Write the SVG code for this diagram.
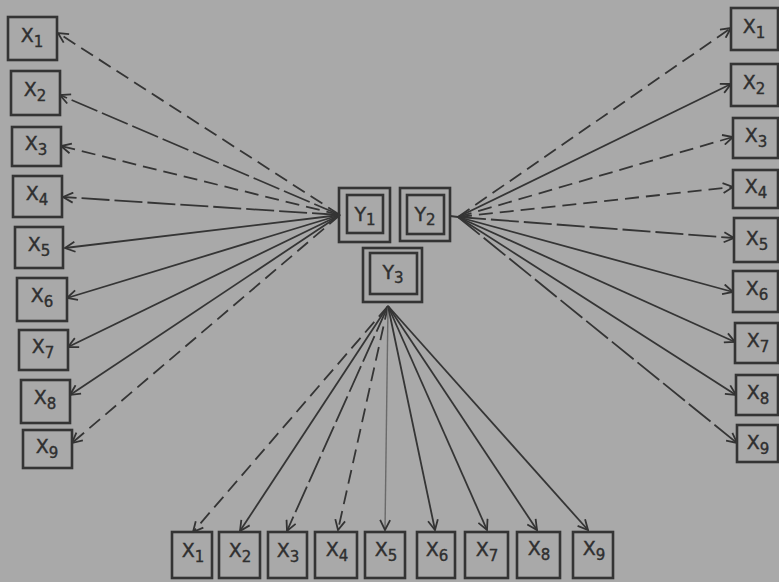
<svg xmlns="http://www.w3.org/2000/svg" width="779" height="582" viewBox="0 0 779 582">
<defs>
<marker id="arr" viewBox="0 0 12 12" refX="11" refY="6" markerWidth="12" markerHeight="12" markerUnits="userSpaceOnUse" orient="auto">
<path d="M1,1 L11,6 L1,11" fill="none" stroke="#333" stroke-width="1.8"/>
</marker>
</defs>
<style>
.bg{fill:#a9a9a9}
.box{fill:none;stroke:#343434;stroke-width:2.6}
.lbl{font-family:"DejaVu Sans","Liberation Sans",sans-serif;font-size:19px;fill:#2f2f2f;stroke:#2f2f2f;stroke-width:0.4;text-anchor:middle}
.sub{font-size:15px}
.c{fill:none;stroke:#353535;stroke-width:1.8;marker-end:url(#arr)}
.d{stroke-dasharray:14 7}
.ld{stroke-dasharray:28 5}
.g{stroke:#6a6a6a;stroke-width:1.4}
</style>
<rect class="bg" x="0" y="0" width="779" height="582"/>
<g id="connectors">
<line class="c d" x1="340" y1="215" x2="58" y2="33"/>
<line class="c ld" x1="340" y1="215" x2="60" y2="95"/>
<line class="c d" x1="340" y1="215" x2="61" y2="146"/>
<line class="c ld" x1="340" y1="215" x2="63" y2="197"/>
<line class="c" x1="340" y1="215" x2="65" y2="248"/>
<line class="c" x1="340" y1="215" x2="67" y2="298"/>
<line class="c" x1="340" y1="215" x2="68" y2="347"/>
<line class="c" x1="340" y1="215" x2="70" y2="395"/>
<line class="c d" x1="340" y1="215" x2="72" y2="443"/>
<line class="c" x1="450" y1="216" x2="458" y2="217" style="marker-end:none"/>
<line class="c d" x1="458" y1="217" x2="731" y2="28"/>
<line class="c" x1="458" y1="217" x2="731" y2="84"/>
<line class="c d" x1="458" y1="217" x2="733" y2="137"/>
<line class="c d" x1="458" y1="217" x2="733" y2="187"/>
<line class="c ld" x1="458" y1="217" x2="734" y2="238"/>
<line class="c" x1="458" y1="217" x2="733" y2="292"/>
<line class="c" x1="458" y1="217" x2="735" y2="342"/>
<line class="c" x1="458" y1="217" x2="736" y2="395"/>
<line class="c ld" x1="458" y1="217" x2="737" y2="443"/>
<line class="c d" x1="388" y1="306" x2="193" y2="532"/>
<line class="c" x1="388" y1="306" x2="240" y2="531"/>
<line class="c ld" x1="388" y1="306" x2="287" y2="531"/>
<line class="c d" x1="388" y1="306" x2="338" y2="530"/>
<line class="c g" x1="388" y1="306" x2="385" y2="530"/>
<line class="c" x1="388" y1="306" x2="435" y2="530"/>
<line class="c" x1="388" y1="306" x2="487" y2="530"/>
<line class="c" x1="388" y1="306" x2="537" y2="530"/>
<line class="c" x1="388" y1="306" x2="588" y2="530"/>
</g>
<g id="Y1"><rect class="box" x="339" y="188" width="51" height="54"/><rect class="box" x="347" y="195" width="36" height="38"/><text class="lbl" x="365" y="221">Y<tspan class="sub" dy="4">1</tspan></text></g>
<g id="Y2"><rect class="box" x="400" y="188" width="50" height="53"/><rect class="box" x="407" y="195" width="37" height="39"/><text class="lbl" x="425" y="221">Y<tspan class="sub" dy="4">2</tspan></text></g>
<g id="Y3"><rect class="box" x="363" y="248" width="59" height="54"/><rect class="box" x="370" y="253" width="47" height="41"/><text class="lbl" x="393" y="279">Y<tspan class="sub" dy="4">3</tspan></text></g>
<g id="L1"><rect class="box" x="8" y="17" width="49" height="43"/><text class="lbl" x="32" y="42">X<tspan class="sub" dy="5">1</tspan></text></g>
<g id="L2"><rect class="box" x="11" y="71" width="49" height="44"/><text class="lbl" x="35" y="96">X<tspan class="sub" dy="5">2</tspan></text></g>
<g id="L3"><rect class="box" x="12" y="127" width="49" height="39"/><text class="lbl" x="36" y="150">X<tspan class="sub" dy="5">3</tspan></text></g>
<g id="L4"><rect class="box" x="13" y="176" width="49" height="41"/><text class="lbl" x="37" y="200">X<tspan class="sub" dy="5">4</tspan></text></g>
<g id="L5"><rect class="box" x="15" y="227" width="48" height="41"/><text class="lbl" x="39" y="251">X<tspan class="sub" dy="5">5</tspan></text></g>
<g id="L6"><rect class="box" x="17" y="278" width="50" height="43"/><text class="lbl" x="42" y="302">X<tspan class="sub" dy="5">6</tspan></text></g>
<g id="L7"><rect class="box" x="19" y="330" width="49" height="40"/><text class="lbl" x="43" y="353">X<tspan class="sub" dy="5">7</tspan></text></g>
<g id="L8"><rect class="box" x="21" y="380" width="49" height="43"/><text class="lbl" x="45" y="404">X<tspan class="sub" dy="5">8</tspan></text></g>
<g id="L9"><rect class="box" x="23" y="430" width="49" height="38"/><text class="lbl" x="47" y="453">X<tspan class="sub" dy="5">9</tspan></text></g>
<g id="R1"><rect class="box" x="731" y="8" width="47" height="42"/><text class="lbl" x="754" y="33">X<tspan class="sub" dy="5">1</tspan></text></g>
<g id="R2"><rect class="box" x="731" y="64" width="47" height="42"/><text class="lbl" x="754" y="89">X<tspan class="sub" dy="5">2</tspan></text></g>
<g id="R3"><rect class="box" x="733" y="118" width="45" height="40"/><text class="lbl" x="756" y="142">X<tspan class="sub" dy="5">3</tspan></text></g>
<g id="R4"><rect class="box" x="733" y="170" width="45" height="38"/><text class="lbl" x="756" y="193">X<tspan class="sub" dy="5">4</tspan></text></g>
<g id="R5"><rect class="box" x="734" y="218" width="44" height="44"/><text class="lbl" x="757" y="245">X<tspan class="sub" dy="5">5</tspan></text></g>
<g id="R6"><rect class="box" x="733" y="271" width="45" height="41"/><text class="lbl" x="757" y="295">X<tspan class="sub" dy="5">6</tspan></text></g>
<g id="R7"><rect class="box" x="735" y="323" width="43" height="40"/><text class="lbl" x="758" y="347">X<tspan class="sub" dy="5">7</tspan></text></g>
<g id="R8"><rect class="box" x="736" y="375" width="42" height="40"/><text class="lbl" x="758" y="399">X<tspan class="sub" dy="5">8</tspan></text></g>
<g id="R9"><rect class="box" x="737" y="425" width="41" height="37"/><text class="lbl" x="758" y="449">X<tspan class="sub" dy="5">9</tspan></text></g>
<g id="B1"><rect class="box" x="172" y="532" width="40" height="46"/><text class="lbl" x="193" y="557">X<tspan class="sub" dy="5">1</tspan></text></g>
<g id="B2"><rect class="box" x="219" y="532" width="41" height="46"/><text class="lbl" x="240" y="557">X<tspan class="sub" dy="5">2</tspan></text></g>
<g id="B3"><rect class="box" x="268" y="532" width="39" height="46"/><text class="lbl" x="288" y="557">X<tspan class="sub" dy="5">3</tspan></text></g>
<g id="B4"><rect class="box" x="315" y="532" width="42" height="46"/><text class="lbl" x="337" y="556">X<tspan class="sub" dy="5">4</tspan></text></g>
<g id="B5"><rect class="box" x="365" y="532" width="40" height="46"/><text class="lbl" x="386" y="556">X<tspan class="sub" dy="5">5</tspan></text></g>
<g id="B6"><rect class="box" x="417" y="532" width="38" height="46"/><text class="lbl" x="437" y="556">X<tspan class="sub" dy="5">6</tspan></text></g>
<g id="B7"><rect class="box" x="465" y="532" width="43" height="46"/><text class="lbl" x="487" y="556">X<tspan class="sub" dy="5">7</tspan></text></g>
<g id="B8"><rect class="box" x="517" y="532" width="43" height="46"/><text class="lbl" x="539" y="555">X<tspan class="sub" dy="5">8</tspan></text></g>
<g id="B9"><rect class="box" x="573" y="532" width="40" height="46"/><text class="lbl" x="594" y="555">X<tspan class="sub" dy="5">9</tspan></text></g>
</svg>
